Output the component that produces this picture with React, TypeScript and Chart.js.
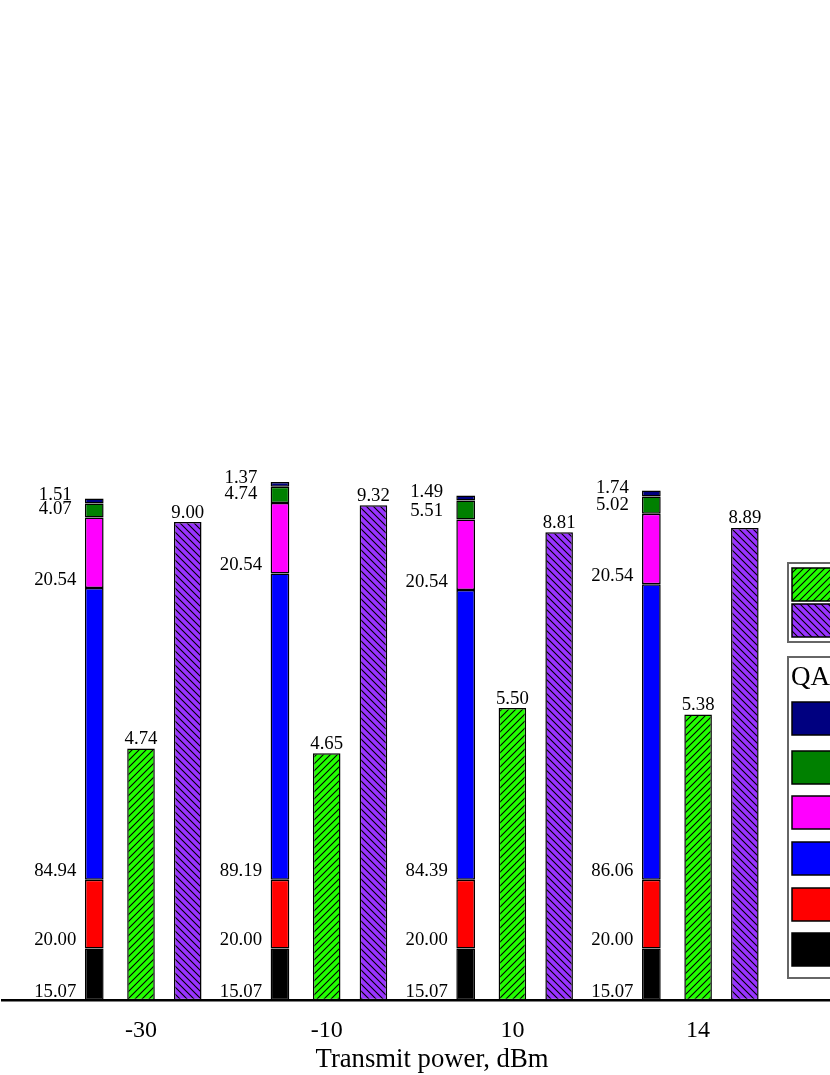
import React, { useEffect, useRef } from "react";
import { Chart, registerables } from "chart.js";

Chart.register(...registerables);

const FONT = "'Liberation Serif', 'Times New Roman', serif";

// ---- data ----
const CATEGORIES = ["-30", "-10", "10", "14"];
const BPSK = [15.07, 15.07, 15.07, 15.07];
const QPSK = [20.0, 20.0, 20.0, 20.0];
const QAM16 = [84.94, 89.19, 84.39, 86.06];
const QAM64 = [20.54, 20.54, 20.54, 20.54];
const QAM256 = [4.07, 4.74, 5.51, 5.02];
const QAM1024 = [1.51, 1.37, 1.49, 1.74];
const AVG_RATE = [4.74, 4.65, 5.5, 5.38];
const PEAK_RATE = [9.0, 9.32, 8.81, 8.89];

const QAM_NAMES = ["BPSK", "QPSK", "16-QAM", "64-QAM", "256-QAM", "1024-QAM"];
const QAM_COLORS = ["#000000", "#ff0000", "#0000ff", "#ff00ff", "#008000", "#000080"];
const QAM_SERIES = [BPSK, QPSK, QAM16, QAM64, QAM256, QAM1024];
const HATCH_NAMES = ["Average rate, bit/symbol", "Peak rate, bit/symbol"];

function makeHatch(color: string, forward: boolean) {
  const s = 7;
  const c = document.createElement("canvas");
  c.width = s;
  c.height = s;
  const g = c.getContext("2d")!;
  g.fillStyle = color;
  g.fillRect(0, 0, s, s);
  g.strokeStyle = "#000";
  g.lineWidth = 1.1;
  g.beginPath();
  if (forward) {
    g.moveTo(-1, s + 1); g.lineTo(s + 1, -1);
    g.moveTo(-1, 1); g.lineTo(1, -1);
    g.moveTo(s - 1, s + 1); g.lineTo(s + 1, s - 1);
  } else {
    g.moveTo(-1, -1); g.lineTo(s + 1, s + 1);
    g.moveTo(-1, s - 1); g.lineTo(1, s + 1);
    g.moveTo(s - 1, -1); g.lineTo(s + 1, 1);
  }
  g.stroke();
  return g.createPattern(c, "repeat")!;
}

export default function App() {
  const ref = useRef<HTMLCanvasElement>(null);
  useEffect(() => {
    const canvas = ref.current!;
    const greenHatch = makeHatch("#22ff00", true);
    const purpleHatch = makeHatch("#9933ff", false);
    const hatchFills = [greenHatch, purpleHatch];

    const toXY = (arr: number[]) => arr.map((v, i) => ({ x: i, y: v }));

    const stackedSets = QAM_SERIES.map((arr, k) => ({
      label: QAM_NAMES[k],
      data: toXY(arr),
      backgroundColor: QAM_COLORS[k],
      borderColor: "#000",
      borderWidth: 1.5,
      borderSkipped: false,
      stack: "qam",
      yAxisID: "y",
      barPercentage: 0.4,
      categoryPercentage: 0.755,
    }));
    const hatchSets = [AVG_RATE, PEAK_RATE].map((arr, k) => ({
      label: HATCH_NAMES[k],
      data: toXY(arr),
      backgroundColor: hatchFills[k],
      borderColor: "#000",
      borderWidth: 1.5,
      borderSkipped: false,
      stack: k === 0 ? "avg" : "peak",
      yAxisID: "y2",
      barPercentage: 0.59,
      categoryPercentage: 0.755,
    }));

    const valueLabels = {
      id: "valueLabels",
      afterDatasetsDraw(chart: any) {
        const ctx = chart.ctx;
        ctx.save();
        ctx.font = `18.8px ${FONT}`;
        ctx.fillStyle = "#000";
        ctx.textAlign = "center";
        ctx.textBaseline = "alphabetic";
        chart.data.datasets.forEach((ds: any, di: number) => {
          const meta = chart.getDatasetMeta(di);
          meta.data.forEach((el: any, i: number) => {
            const v = ds.data[i].y as number;
            const p = el.getProps(["x", "y", "base"], true);
            if (ds.stack === "qam") ctx.fillText(v.toFixed(2), p.x - 39, p.base - 3.5);
            else ctx.fillText(v.toFixed(2), p.x, p.y - 4.5);
          });
        });
        ctx.restore();
      },
    };

    const legendBoxes = {
      id: "legendBoxes",
      afterDraw(chart: any) {
        const ctx = chart.ctx;
        ctx.save();
        // box 1: hatched series
        ctx.strokeStyle = "#666";
        ctx.lineWidth = 2;
        ctx.strokeRect(788, 563, 200, 79);
        const hy = [568, 604];
        hy.forEach((y, k) => {
          ctx.fillStyle = hatchFills[k];
          ctx.fillRect(792, y, 42, 33);
          ctx.strokeStyle = "#000";
          ctx.lineWidth = 1.5;
          ctx.strokeRect(792, y, 42, 33);
          ctx.fillStyle = "#000";
          ctx.font = `20px ${FONT}`;
          ctx.textBaseline = "middle";
          ctx.fillText(HATCH_NAMES[k], 842, y + 17);
        });
        // box 2: QAM orders
        ctx.strokeStyle = "#666";
        ctx.lineWidth = 2;
        ctx.strokeRect(788, 657, 200, 321);
        ctx.fillStyle = "#000";
        ctx.font = `27px ${FONT}`;
        ctx.textBaseline = "middle";
        ctx.textAlign = "left";
        ctx.fillText("QAM order", 791, 678);
        const qy = [702, 751, 796, 842, 888, 933];
        const order = [5, 4, 3, 2, 1, 0];
        qy.forEach((y, j) => {
          const k = order[j];
          ctx.fillStyle = QAM_COLORS[k];
          ctx.fillRect(792, y, 42, 33);
          ctx.strokeStyle = "#000";
          ctx.lineWidth = 1.5;
          ctx.strokeRect(792, y, 42, 33);
          ctx.fillStyle = "#000";
          ctx.font = `20px ${FONT}`;
          ctx.fillText(QAM_NAMES[k], 842, y + 17);
        });
        ctx.restore();
      },
    };

    const chart = new Chart(canvas, {
      type: "bar",
      data: { datasets: [...stackedSets, ...hatchSets] as any },
      options: {
        animation: false,
        responsive: false,
        devicePixelRatio: 1,
        layout: { padding: { left: 2, right: 138, top: 0, bottom: 0 } },
        plugins: { legend: { display: false }, tooltip: { enabled: false } },
        scales: {
          x: {
            type: "linear",
            min: -0.7485,
            max: 3.8826,
            offset: false,
            grid: { display: false, drawTicks: false, offset: false },
            border: { display: true, color: "#000", width: 2.5 },
            afterBuildTicks: (axis: any) => {
              axis.ticks = CATEGORIES.map((_, i) => ({ value: i }));
            },
            ticks: {
              autoSkip: false,
              maxRotation: 0,
              padding: 16,
              color: "#000",
              font: { family: FONT, size: 24 },
              callback: (v: any) => CATEGORIES[v as number] ?? "",
            },
            title: {
              display: true,
              text: "Transmit power, dBm",
              color: "#000",
              font: { family: FONT, size: 26.7 },
              padding: { top: -17, bottom: -1 },
            },
          },
          y: { display: false, stacked: true, min: 0, max: 291.3 },
          y2: { display: false, min: 0, max: 18.83, position: "right" },
        },
      } as any,
      plugins: [valueLabels, legendBoxes],
    });
    return () => chart.destroy();
  }, []);

  return (
    <div
      style={{
        position: "absolute",
        left: 0,
        top: 0,
        width: 830,
        height: 1075,
        overflow: "hidden",
        background: "#fff",
      }}
    >
      <canvas ref={ref} width={1000} height={1075} style={{ display: "block", width: 1000, height: 1075 }} />
    </div>
  );
}
